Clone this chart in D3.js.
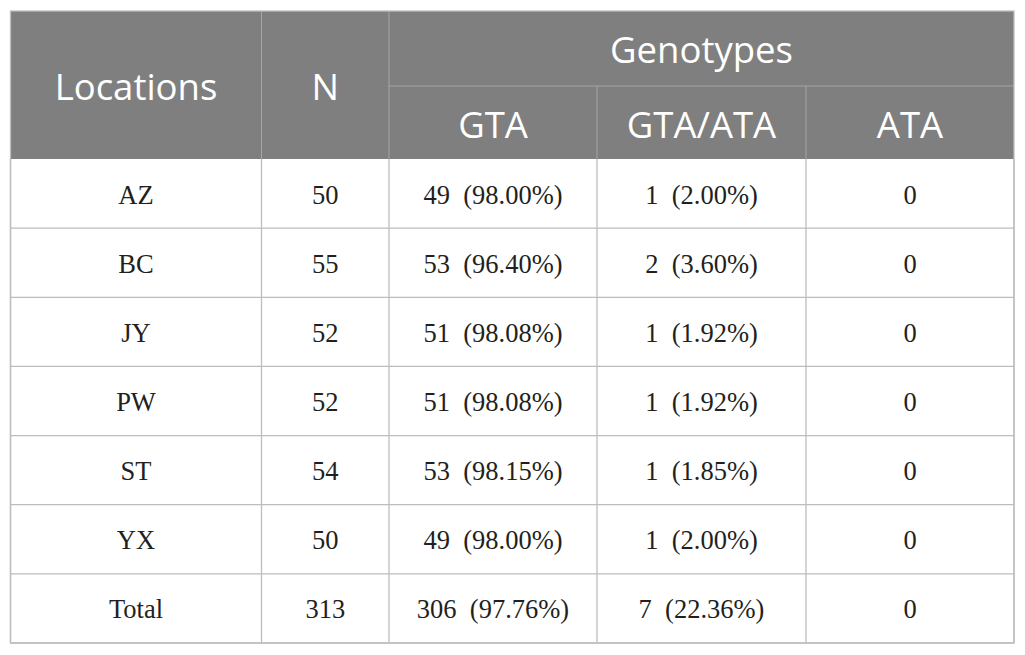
<!DOCTYPE html>
<html><head><meta charset="utf-8">
<script src="https://cdn.jsdelivr.net/npm/d3@7"></script>
<style>body{margin:0;background:#fff}</style>
</head><body>
<svg id="c" width="1025" height="655"></svg>
<script>
const locations = ["AZ","BC","JY","PW","ST","YX","Total"];
const nValues = [50,55,52,52,54,50,313];
const gtaCounts = [49,53,51,51,53,49,306];
const gtaPct = ["98.00%","96.40%","98.08%","98.08%","98.15%","98.00%","97.76%"];
const hetCounts = [1,2,1,1,1,1,7];
const hetPct = ["2.00%","3.60%","1.92%","1.92%","1.85%","2.00%","22.36%"];
const ataCounts = [0,0,0,0,0,0,0];
const headerTop = ["Locations","N","Genotypes"];
const headerSub = ["GTA","GTA/ATA","ATA"];

const svg = d3.select("#c");
const L = 10.5, R = 1014, T = 11, H1 = 86, H2 = 159, B = 643;
const colEdges = [L, 261.5, 389, 597, 806, R];
const rowScale = d3.scaleBand().domain(d3.range(locations.length)).range([H2, B]);
const headFill = "#7f7f7f", lineCol = "#bdbdbd", headLine = "#a6a6a6";
const sansFont = "'Open Sans', Lato, sans-serif";
const serifFont = "'Liberation Serif', 'Times New Roman', serif";

// header background
svg.append("rect").attr("x", L).attr("y", T).attr("width", R - L).attr("height", H2 - T).attr("fill", headFill);

// header internal lines
const hl = svg.append("g").attr("stroke", headLine).attr("stroke-width", 1);
hl.append("line").attr("x1", colEdges[2]).attr("x2", R).attr("y1", H1).attr("y2", H1);
hl.append("line").attr("x1", colEdges[1]).attr("x2", colEdges[1]).attr("y1", T).attr("y2", H2);
hl.append("line").attr("x1", colEdges[2]).attr("x2", colEdges[2]).attr("y1", T).attr("y2", H2);
[3,4].forEach(i => hl.append("line").attr("x1", colEdges[i]).attr("x2", colEdges[i]).attr("y1", H1).attr("y2", H2));

// header text
const ht = svg.append("g").attr("fill", "#fff").attr("font-family", sansFont).attr("font-size", 36.5).attr("text-anchor", "middle").attr("dominant-baseline", "central");
ht.append("text").attr("x", (colEdges[0] + colEdges[1]) / 2).attr("y", (T + H2) / 2 + 1).text(headerTop[0]);
ht.append("text").attr("x", (colEdges[1] + colEdges[2]) / 2).attr("y", (T + H2) / 2 + 1).text(headerTop[1]);
ht.append("text").attr("x", (colEdges[2] + R) / 2).attr("y", (T + H1) / 2).text(headerTop[2]);
headerSub.forEach((s, i) => ht.append("text").attr("x", (colEdges[i + 2] + colEdges[i + 3]) / 2).attr("y", (H1 + H2) / 2 + 1).text(s));

// body lines
const bl = svg.append("g").attr("stroke", lineCol).attr("stroke-width", 1.3);
d3.range(locations.length).forEach(i => {
  bl.append("line").attr("x1", L).attr("x2", R).attr("y1", rowScale(i) + rowScale.bandwidth()).attr("y2", rowScale(i) + rowScale.bandwidth());
});
colEdges.forEach(x => bl.append("line").attr("x1", x).attr("x2", x).attr("y1", H2).attr("y2", B));
// outer border
svg.append("rect").attr("x", L).attr("y", T).attr("width", R - L).attr("height", B - T).attr("fill", "none").attr("stroke", lineCol).attr("stroke-width", 1.3);

// body text
const rows = locations.map((loc, i) => [
  loc, String(nValues[i]),
  gtaCounts[i] + " (" + gtaPct[i] + ")",
  hetCounts[i] + " (" + hetPct[i] + ")",
  String(ataCounts[i])
]);
const bt = svg.append("g").attr("fill", "#231f20").attr("font-family", serifFont).attr("font-size", 26.5).attr("text-anchor", "middle").attr("dominant-baseline", "central");
rows.forEach((r, i) => {
  r.forEach((s, j) => {
    bt.append("text").attr("x", (colEdges[j] + colEdges[j + 1]) / 2).attr("y", rowScale(i) + rowScale.bandwidth() / 2 + 1)
      .text(s.replace(" (", "\u2002("));
  });
});
</script>
</body></html>
